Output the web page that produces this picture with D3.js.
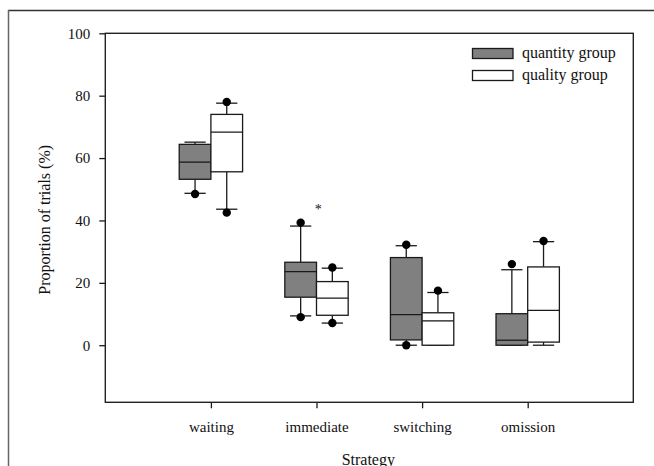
<!DOCTYPE html>
<html>
<head>
<meta charset="utf-8">
<script src="https://cdn.jsdelivr.net/npm/d3@7"></script>
<style>
  html, body { margin: 0; padding: 0; background: #fff; }
  svg { display: block; }
  text { font-family: "Liberation Serif", "Times New Roman", serif; fill: #111; }
</style>
</head>
<body>
<svg id="chart" width="654" height="466"></svg>
<script>
// ---- data ----
const categories = ["waiting", "immediate", "switching", "omission"];
const groups = ["quantity group", "quality group"];
const yTicks = [0, 20, 40, 60, 80, 100];

// quantity group (gray)
const quantityLowCap  = [48.7, 9.4, 0.0, 0.0];
const quantityQ1      = [53.2, 15.4, 1.7, 0.0];
const quantityMedian  = [58.7, 23.6, 9.8, 1.6];
const quantityQ3      = [64.4, 26.6, 28.1, 10.1];
const quantityHighCap = [65.1, 38.2, 31.9, 24.2];
const quantityOutliers = [[48.5], [9.0, 39.3], [0.0, 32.2], [26.0]];

// quality group (white)
const qualityLowCap  = [43.6, 7.1, 0.0, 0.0];
const qualityQ1      = [55.6, 9.6, 0.0, 1.0];
const qualityMedian  = [68.3, 15.1, 7.8, 11.2];
const qualityQ3      = [74.0, 20.4, 10.4, 25.1];
const qualityHighCap = [77.6, 24.7, 16.9, 33.2];
const qualityOutliers = [[42.5, 78.0], [7.1, 24.9], [17.5], [33.4]];

// significance marker
const markerCategory = "immediate";
const markerValue = 44.2;
const markerText = "*";

// ---- layout ----
const svg = d3.select("#chart");
const L = 105.3, R = 633.3, T = 33.3, B = 402.3;
const fills = ["#808080", "#ffffff"];
const stroke = "#1a1a1a";

// outer frame (top + left)
svg.append("line").attr("x1", 8).attr("x2", 654).attr("y1", 10.5).attr("y2", 10.5)
  .attr("stroke", "#333").attr("stroke-width", 1.5);
svg.append("line").attr("x1", 8.5).attr("x2", 8.5).attr("y1", 10).attr("y2", 466)
  .attr("stroke", "#666").attr("stroke-width", 1.5);

const x = d3.scaleLinear().domain([0, 5]).range([L, R]);
const y = d3.scaleLinear().domain([-18.3, 100]).range([B, T]);
const catPos = c => x(categories.indexOf(c) + 1);
const boxW = x(0.3) - x(0);
const capW = boxW * 0.67;

// axes
const yAxis = d3.axisLeft(y).tickValues(yTicks).tickSize(6).tickPadding(9).tickFormat(d3.format("d"));
const gy = svg.append("g").attr("transform", `translate(${L},0)`).call(yAxis);
gy.select(".domain").remove();
gy.selectAll("line").attr("stroke", stroke).attr("stroke-width", 1.3);
gy.selectAll("text").attr("font-size", 15).attr("font-family", "Liberation Serif").attr("fill", "#111");

const xAxis = d3.axisBottom(x).tickValues(categories.map((c, i) => i + 1))
  .tickFormat((d) => categories[d - 1]).tickSize(6).tickPadding(13);
const gx = svg.append("g").attr("transform", `translate(0,${B})`).call(xAxis);
gx.select(".domain").remove();
gx.selectAll("line").attr("stroke", stroke).attr("stroke-width", 1.3);
gx.selectAll("text").attr("font-size", 15).attr("font-family", "Liberation Serif").attr("fill", "#111");

// plot frame
svg.append("rect").attr("x", L).attr("y", T).attr("width", R - L).attr("height", B - T)
  .attr("fill", "none").attr("stroke", "#222").attr("stroke-width", 1.4);

// axis titles
svg.append("text").attr("x", (L + R) / 2 - 1).attr("y", 464.5).attr("text-anchor", "middle")
  .attr("font-size", 16).text("Strategy");
svg.append("text").attr("transform", `translate(50,${(T + B) / 2 + 2}) rotate(-90)`)
  .attr("text-anchor", "middle").attr("font-size", 16).text("Proportion of trials (%)");

// boxes
const series = [
  { low: quantityLowCap, q1: quantityQ1, med: quantityMedian, q3: quantityQ3, high: quantityHighCap, out: quantityOutliers, offset: -1 },
  { low: qualityLowCap, q1: qualityQ1, med: qualityMedian, q3: qualityQ3, high: qualityHighCap, out: qualityOutliers, offset: 0 }
];

series.forEach((s, si) => {
  const g = svg.append("g");
  categories.forEach((c, i) => {
    const x0 = catPos(c) + s.offset * boxW;
    const cx = x0 + boxW / 2;
    // whiskers
    g.append("line").attr("x1", cx).attr("x2", cx).attr("y1", y(s.q3[i])).attr("y2", y(s.high[i]))
      .attr("stroke", stroke).attr("stroke-width", 1.3);
    g.append("line").attr("x1", cx).attr("x2", cx).attr("y1", y(s.q1[i])).attr("y2", y(s.low[i]))
      .attr("stroke", stroke).attr("stroke-width", 1.3);
    // caps
    [s.high[i], s.low[i]].forEach(v => {
      g.append("line").attr("x1", cx - capW / 2).attr("x2", cx + capW / 2).attr("y1", y(v)).attr("y2", y(v))
        .attr("stroke", stroke).attr("stroke-width", 1.3);
    });
    // box
    g.append("rect").attr("x", x0).attr("y", y(s.q3[i])).attr("width", boxW)
      .attr("height", y(s.q1[i]) - y(s.q3[i]))
      .attr("fill", fills[si]).attr("stroke", stroke).attr("stroke-width", 1.3);
    // median
    g.append("line").attr("x1", x0).attr("x2", x0 + boxW).attr("y1", y(s.med[i])).attr("y2", y(s.med[i]))
      .attr("stroke", stroke).attr("stroke-width", 1.3);
    // outliers
    s.out[i].forEach(v => {
      g.append("circle").attr("cx", cx).attr("cy", y(v)).attr("r", 4.2).attr("fill", "#000");
    });
  });
});

// significance asterisk
svg.append("text").attr("x", catPos(markerCategory) + 1.8).attr("y", y(markerValue) + 6.5)
  .attr("text-anchor", "middle").attr("font-size", 14).attr("fill", "#444").text(markerText);

// legend
const legX = 472.5, legY = [48.5, 70.5];
groups.forEach((gname, i) => {
  svg.append("rect").attr("x", legX).attr("y", legY[i]).attr("width", 40.5).attr("height", 10)
    .attr("fill", fills[i]).attr("stroke", stroke).attr("stroke-width", 1.3);
  svg.append("text").attr("x", 522).attr("y", legY[i] + 9.5).attr("font-size", 16).text(gname);
});
</script>
</body>
</html>
